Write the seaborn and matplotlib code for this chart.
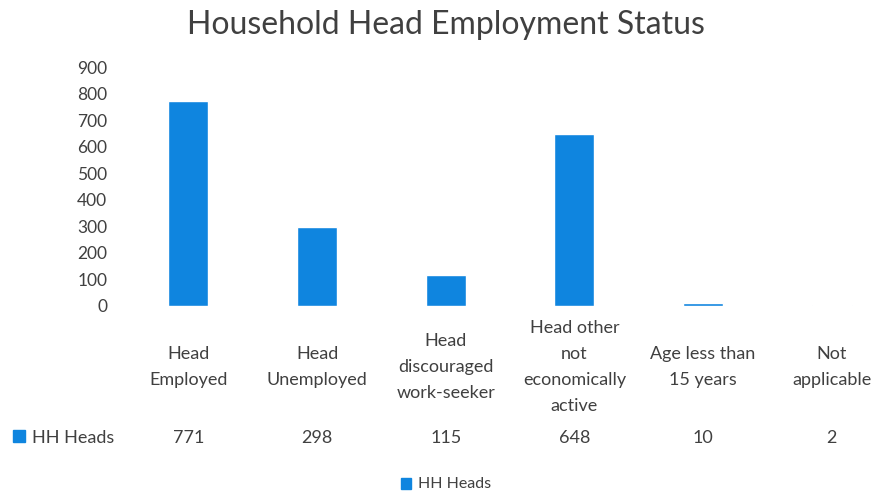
import matplotlib
matplotlib.use("Agg")
import matplotlib.pyplot as plt
import matplotlib.transforms as mtransforms
import seaborn as sns
import pandas as pd

# Household head employment categories and counts
categories = [
    "Head\nEmployed",
    "Head\nUnemployed",
    "Head\ndiscouraged\nwork-seeker",
    "Head other\nnot\neconomically\nactive",
    "Age less than\n15 years",
    "Not\napplicable",
]
hh_heads = [771, 298, 115, 648, 10, 2]
series_name = "HH Heads"
y_ticks = [0, 100, 200, 300, 400, 500, 600, 700, 800, 900]

BAR_COLOR = "#0F85DF"
TEXT_COLOR = "#404040"
FONT = ["Lato", "DejaVu Sans"]

sns.set_theme(style="white")
plt.rcParams["font.family"] = FONT

df = pd.DataFrame({"category": categories, "value": hh_heads})

W, H = 892, 493
fig = plt.figure(figsize=(W / 100, H / 100), dpi=100)
ax = fig.add_axes([124 / W, (H - 306) / H, (896 - 124) / W, (306 - 67) / H])

sns.barplot(data=df, x="category", y="value", color=BAR_COLOR, width=0.31,
            saturation=1, ax=ax)

ax.set_ylim(0, 900)
ax.set_xlim(-0.5, len(categories) - 0.5)
ax.set_yticks(y_ticks)
ax.set_yticklabels([str(t) for t in y_ticks], fontsize=12.5, color=TEXT_COLOR)
ax.tick_params(axis="y", length=0, pad=12)
ax.set_xticks([])
ax.set_xlabel("")
ax.set_ylabel("")
for s in ax.spines.values():
    s.set_visible(False)

fig.text(0.5, (H - 25) / H, "Household Head Employment Status", ha="center",
         va="center", fontsize=23, color=TEXT_COLOR)

# Category labels and data-table row beneath the bars
trans = mtransforms.blended_transform_factory(ax.transData, fig.transFigure)
for i, (cat, val) in enumerate(zip(categories, hh_heads)):
    ax.text(i, (H - 367) / H, cat, transform=trans, ha="center", va="center",
            multialignment="center", fontsize=13, color=TEXT_COLOR,
            linespacing=1.75, clip_on=False)
    ax.text(i, (H - 438) / H, str(val), transform=trans, ha="center",
            va="center", fontsize=13, color=TEXT_COLOR, clip_on=False)

# Series key in the data table
fig.patches.append(plt.Rectangle((13 / W, (H - 442) / H), 12 / W, 12 / H,
                                 transform=fig.transFigure, color=BAR_COLOR))
fig.text(32 / W, (H - 438) / H, series_name, ha="left", va="center",
         fontsize=13, color=TEXT_COLOR)

# Legend at the bottom
fig.patches.append(plt.Rectangle((401 / W, (H - 489) / H), 10 / W, 11 / H,
                                 transform=fig.transFigure, color=BAR_COLOR))
fig.text(418 / W, (H - 484) / H, series_name, ha="left", va="center",
         fontsize=11.5, color=TEXT_COLOR)

fig.savefig("out.png", dpi=100, facecolor="white")
